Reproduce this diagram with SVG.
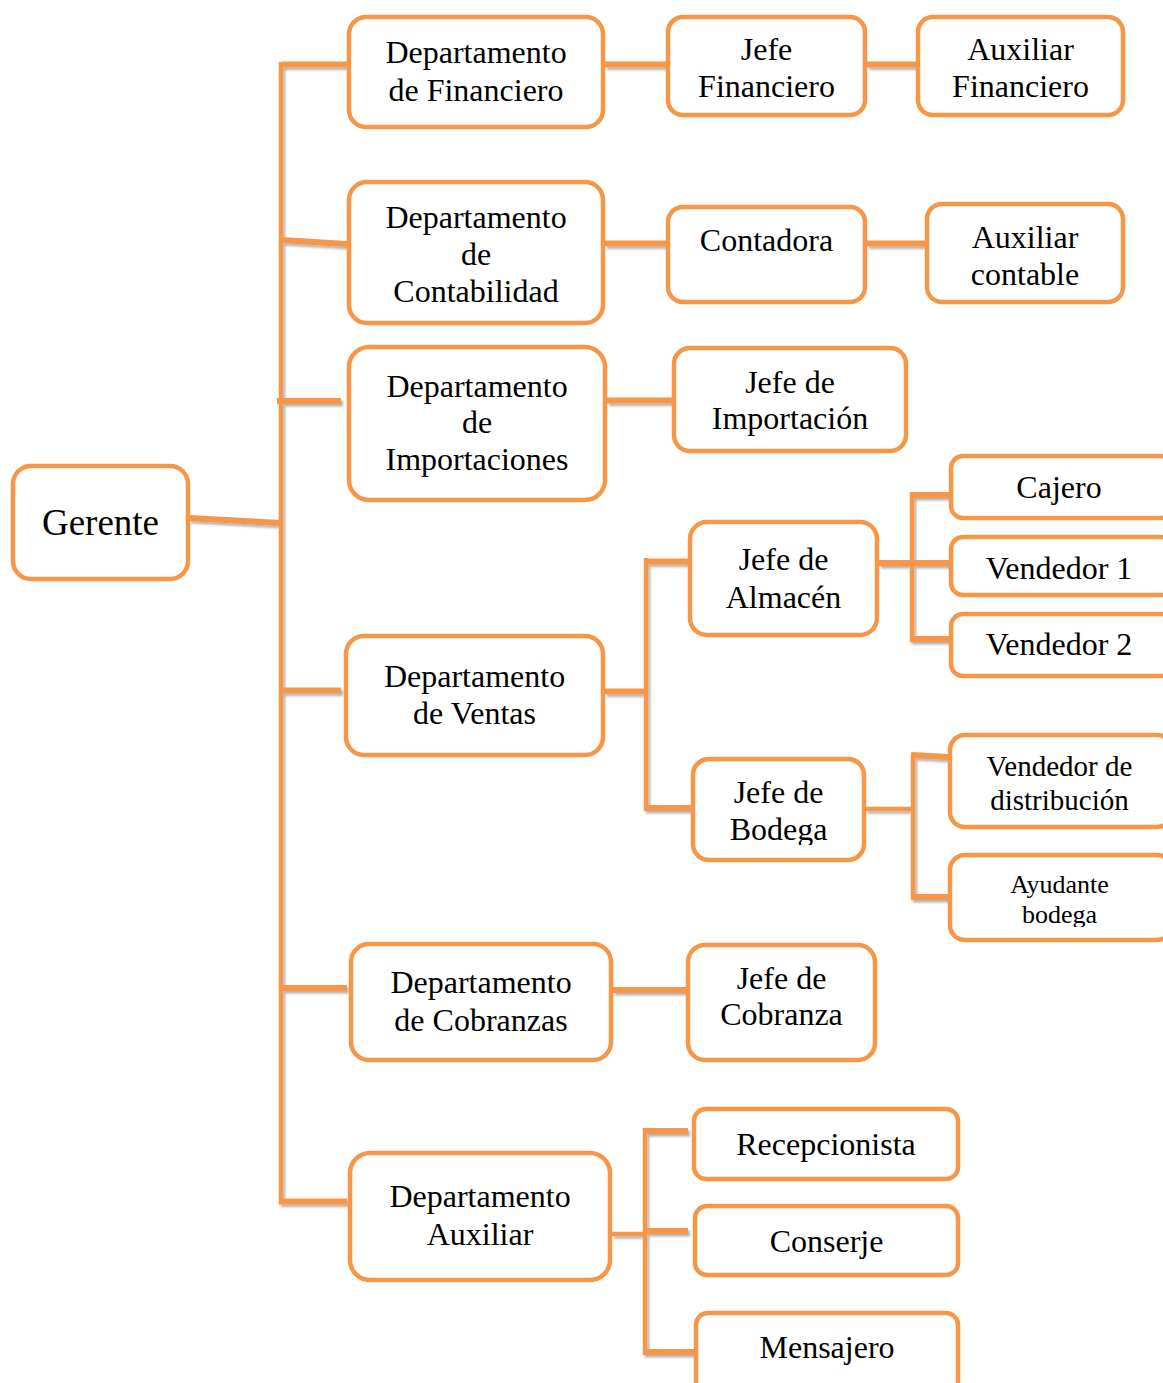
<svg xmlns="http://www.w3.org/2000/svg" width="1163" height="1383" viewBox="0 0 1163 1383">
  <defs>
    <style>
      .box { fill: #ffffff; stroke: #F79646; stroke-width: 4.5; }
      .t { font-family: "Liberation Serif", "Times New Roman", serif; font-size: 32px; fill: #000000; text-anchor: middle; }
      .conn line { stroke: #F79646; stroke-width: 6; fill: none; stroke-linecap: butt; }
      .conn .v { stroke-width: 4.5; }
    </style>
    <filter id="shadow" x="-10%" y="-10%" width="120%" height="120%">
      <feDropShadow dx="2" dy="2.5" stdDeviation="1.2" flood-color="#000" flood-opacity="0.3"/>
    </filter>
    <clipPath id="clipBodega"><rect x="690" y="750" width="180" height="95"/></clipPath>
    <clipPath id="clipAyud"><rect x="948" y="850" width="215" height="77"/></clipPath>
  </defs>
  <rect width="1163" height="1383" fill="#ffffff"/>

  <!-- connectors -->
  <g id="connectors" class="conn" filter="url(#shadow)">
    <line class="v" x1="281" y1="62" x2="281" y2="1204"/>
    <line x1="189" y1="518" x2="281" y2="523"/>
    <line x1="281" y1="64.5" x2="347" y2="64.5"/>
    <line x1="281" y1="240" x2="347" y2="244"/>
    <line x1="277" y1="401" x2="341" y2="401"/>
    <line x1="281" y1="690.5" x2="341" y2="690.5"/>
    <line x1="281" y1="988" x2="347" y2="988"/>
    <line x1="279" y1="1201.5" x2="347" y2="1201.5"/>

    <line x1="605" y1="64.5" x2="666" y2="64.5"/>
    <line x1="867" y1="64.5" x2="916" y2="64.5"/>
    <line x1="605" y1="243.5" x2="666" y2="243.5"/>
    <line x1="867" y1="243.5" x2="925" y2="243.5"/>
    <line x1="607" y1="400.5" x2="672" y2="400.5"/>

    <line x1="605" y1="691.5" x2="646" y2="691.5"/>
    <line class="v" x1="646" y1="558" x2="646" y2="811"/>
    <line x1="644" y1="561.5" x2="688" y2="561.5"/>
    <line x1="644" y1="808" x2="691" y2="808"/>

    <line x1="879" y1="563" x2="949" y2="563"/>
    <line class="v" x1="912" y1="492" x2="912" y2="642"/>
    <line x1="910" y1="495" x2="949" y2="495"/>
    <line x1="910" y1="639" x2="949" y2="639"/>

    <line class="v" x1="866" y1="809" x2="913" y2="809"/>
    <line class="v" x1="913" y1="755" x2="913" y2="900"/>
    <line x1="911" y1="755" x2="948" y2="757"/>
    <line x1="911" y1="897" x2="948" y2="897"/>

    <line x1="613" y1="990" x2="686" y2="990"/>

    <line class="v" x1="612" y1="1234" x2="645" y2="1234"/>
    <line class="v" x1="645" y1="1128" x2="645" y2="1355"/>
    <line x1="643" y1="1131" x2="688" y2="1131"/>
    <line x1="643" y1="1231" x2="688" y2="1231"/>
    <line x1="643" y1="1352" x2="694" y2="1352"/>
  </g>

  <!-- nodes -->
  <g id="gerente">
    <rect class="box" x="13" y="466" width="175" height="113" rx="18"/>
    <text class="t" x="100.5" y="535" style="font-size:37px">Gerente</text>
  </g>

  <g id="dep-financiero">
    <rect class="box" x="349" y="17" width="254" height="110" rx="17"/>
    <text class="t"><tspan x="476" y="63">Departamento</tspan><tspan x="476" y="101">de Financiero</tspan></text>
  </g>
  <g id="jefe-financiero">
    <rect class="box" x="668" y="17" width="197" height="98" rx="15"/>
    <text class="t"><tspan x="766.5" y="60">Jefe</tspan><tspan x="766.5" y="97">Financiero</tspan></text>
  </g>
  <g id="aux-financiero">
    <rect class="box" x="918" y="17" width="205" height="98" rx="15"/>
    <text class="t"><tspan x="1020.5" y="60">Auxiliar</tspan><tspan x="1020.5" y="97">Financiero</tspan></text>
  </g>

  <g id="dep-contabilidad">
    <rect class="box" x="349" y="182" width="254" height="141" rx="18"/>
    <text class="t"><tspan x="476" y="228">Departamento</tspan><tspan x="476" y="265">de</tspan><tspan x="476" y="302">Contabilidad</tspan></text>
  </g>
  <g id="contadora">
    <rect class="box" x="668" y="207" width="197" height="95" rx="15"/>
    <text class="t" x="766.5" y="251">Contadora</text>
  </g>
  <g id="aux-contable">
    <rect class="box" x="927" y="204" width="196" height="98" rx="15"/>
    <text class="t"><tspan x="1025" y="248">Auxiliar</tspan><tspan x="1025" y="285">contable</tspan></text>
  </g>

  <g id="dep-importaciones">
    <rect class="box" x="349" y="347" width="256" height="153" rx="20"/>
    <text class="t"><tspan x="477" y="397">Departamento</tspan><tspan x="477" y="433">de</tspan><tspan x="477" y="470">Importaciones</tspan></text>
  </g>
  <g id="jefe-importacion">
    <rect class="box" x="674" y="348" width="232" height="103" rx="16"/>
    <text class="t"><tspan x="790" y="393">Jefe de</tspan><tspan x="790" y="429">Importación</tspan></text>
  </g>

  <g id="dep-ventas">
    <rect class="box" x="346" y="636" width="257" height="119" rx="18"/>
    <text class="t"><tspan x="474.5" y="687">Departamento</tspan><tspan x="474.5" y="724">de Ventas</tspan></text>
  </g>
  <g id="jefe-almacen">
    <rect class="box" x="690" y="522" width="187" height="113" rx="17"/>
    <text class="t"><tspan x="783.5" y="570">Jefe de</tspan><tspan x="783.5" y="608">Almacén</tspan></text>
  </g>
  <g id="cajero">
    <rect class="box" x="951" y="456" width="222" height="62" rx="12"/>
    <text class="t" x="1059" y="498">Cajero</text>
  </g>
  <g id="vendedor-1">
    <rect class="box" x="951" y="537" width="222" height="58" rx="12"/>
    <text class="t" x="1059" y="579">Vendedor 1</text>
  </g>
  <g id="vendedor-2">
    <rect class="box" x="951" y="614" width="222" height="62" rx="12"/>
    <text class="t" x="1059" y="655">Vendedor 2</text>
  </g>
  <g id="jefe-bodega">
    <rect class="box" x="693" y="759" width="171" height="101" rx="16"/>
    <text class="t" clip-path="url(#clipBodega)"><tspan x="778.5" y="803">Jefe de</tspan><tspan x="778.5" y="840">Bodega</tspan></text>
  </g>
  <g id="vendedor-distribucion">
    <rect class="box" x="950" y="735" width="222" height="92" rx="15"/>
    <text class="t" style="font-size:29px"><tspan x="1059.5" y="776">Vendedor de</tspan><tspan x="1059.5" y="810">distribución</tspan></text>
  </g>
  <g id="ayudante-bodega">
    <rect class="box" x="950" y="855" width="222" height="85" rx="15"/>
    <text class="t" style="font-size:26px" clip-path="url(#clipAyud)"><tspan x="1059.5" y="893">Ayudante</tspan><tspan x="1059.5" y="923">bodega</tspan></text>
  </g>

  <g id="dep-cobranzas">
    <rect class="box" x="351" y="944" width="260" height="116" rx="18"/>
    <text class="t"><tspan x="481" y="993">Departamento</tspan><tspan x="481" y="1031">de Cobranzas</tspan></text>
  </g>
  <g id="jefe-cobranza">
    <rect class="box" x="688" y="945" width="187" height="115" rx="17"/>
    <text class="t"><tspan x="781.5" y="989">Jefe de</tspan><tspan x="781.5" y="1025">Cobranza</tspan></text>
  </g>

  <g id="dep-auxiliar">
    <rect class="box" x="350" y="1153" width="260" height="127" rx="20"/>
    <text class="t"><tspan x="480" y="1207">Departamento</tspan><tspan x="480" y="1245">Auxiliar</tspan></text>
  </g>
  <g id="recepcionista">
    <rect class="box" x="694" y="1109" width="264" height="70" rx="12"/>
    <text class="t" x="826" y="1155">Recepcionista</text>
  </g>
  <g id="conserje">
    <rect class="box" x="695" y="1206" width="263" height="69" rx="12"/>
    <text class="t" x="826.5" y="1252">Conserje</text>
  </g>
  <g id="mensajero">
    <rect class="box" x="696" y="1313" width="262" height="80" rx="12"/>
    <text class="t" x="827" y="1358">Mensajero</text>
  </g>
</svg>
